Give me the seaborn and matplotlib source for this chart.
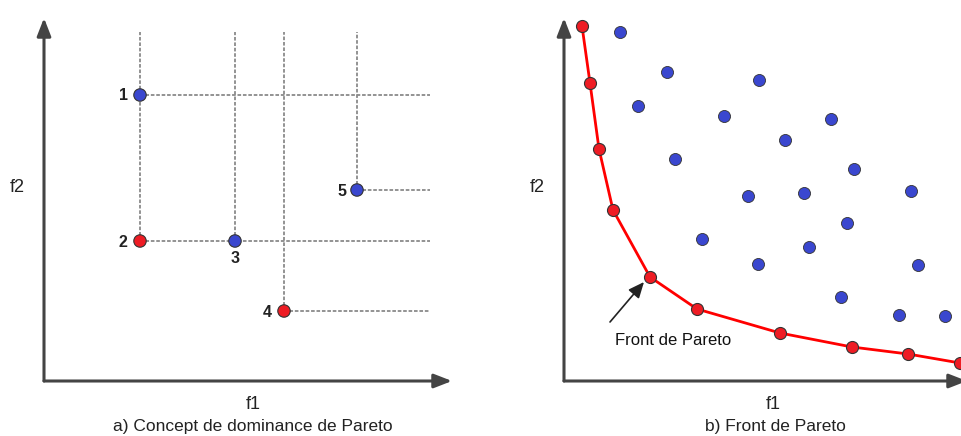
import matplotlib
matplotlib.use("Agg")
import matplotlib.pyplot as plt
import seaborn as sns
import pandas as pd

sns.set_theme(style="white")
plt.rcParams['font.family'] = ['Liberation Sans', 'DejaVu Sans']

# ---- data: panel a (dominance concept) ----
a_labels = ["1", "2", "3", "4", "5"]
a_f1 = [96, 96, 191, 240, 313]
a_f2 = [286, 140, 140, 70, 191]
a_status = ["dominated", "front", "dominated", "front", "dominated"]

# ---- data: panel b (Pareto front) ----
front_f1 = [18, 26, 35, 49, 86, 133, 216, 288, 344, 396]
front_f2 = [355, 298, 232, 171, 104, 72, 48, 34, 27, 18]
dom_f1 = [56, 103, 195, 74, 160, 267, 221, 111, 290, 184,
          240, 347, 283, 138, 245, 194, 354, 277, 335, 381]
dom_f2 = [349, 309, 301, 275, 265, 262, 241, 222, 212, 185,
          188, 190, 158, 142, 134, 117, 116, 84, 66, 65]

BLUE = "#3a47cf"
RED = "#ee1c24"
EDGE = "#333333"
AXC = "#444444"

W, H = 961, 436
fig = plt.figure(figsize=(W / 100, H / 100), dpi=100)

def px_axes(x0, y0, x1, y1):
    return fig.add_axes([x0 / W, 1 - y1 / H, (x1 - x0) / W, (y1 - y0) / H])

def style_axes(ax, xmax, ymax, xarrow):
    ax.set_xlim(0, xmax)
    ax.set_ylim(0, ymax)
    for s in ax.spines.values():
        s.set_visible(False)
    ax.set_xticks([])
    ax.set_yticks([])
    ax.patch.set_alpha(0)
    ap = dict(arrowstyle="-|>,head_length=0.9,head_width=0.35", color=AXC, lw=2.2,
              shrinkA=0, shrinkB=0, mutation_scale=12)
    ax.annotate("", xy=(xarrow, 0), xytext=(0, 0), arrowprops=ap, annotation_clip=False)
    ax.annotate("", xy=(0, ymax), xytext=(0, 0), arrowprops=ap, annotation_clip=False)

# ---------- panel a ----------
axA = px_axes(44, 18, 452, 381)
style_axes(axA, 408, 363, 408)
dash = dict(color="#8a8a8a", lw=1.3, ls=(0, (2, 1)), zorder=1)
xr = 386   # right end of horizontal guides
ytop = 349  # top end of vertical guides
# one vertical guide per distinct f1 (from lowest point up), one horizontal per distinct f2
vmin = {}
hmin = {}
for x, y in zip(a_f1, a_f2):
    vmin[x] = min(vmin.get(x, y), y)
    hmin[y] = min(hmin.get(y, x), x)
for x, y in vmin.items():
    axA.plot([x, x], [y, ytop], **dash)
for y, x in hmin.items():
    axA.plot([x, xr], [y, y], **dash)
dfA = pd.DataFrame({"f1": a_f1, "f2": a_f2, "s": a_status})
sns.scatterplot(data=dfA, x="f1", y="f2", hue="s",
                palette={"dominated": BLUE, "front": RED}, s=80,
                edgecolor=EDGE, linewidth=0.8, legend=False, ax=axA, zorder=3)
offs = [(-17, 0), (-17, -1), (0, -17), (-17, -1), (-15, -1)]
for lab, x, y, (dx, dy) in zip(a_labels, a_f1, a_f2, offs):
    axA.text(x + dx, y + dy, lab, ha="center", va="center", fontsize=11.5,
             fontweight="bold", color="#222222")
axA.set_xlabel("")
axA.set_ylabel("")

# ---------- panel b ----------
axB = px_axes(564, 18, 964, 381)
style_axes(axB, 400, 363, 403)
sns.lineplot(x=front_f1, y=front_f2, color="#ff0000", lw=2, ax=axB, zorder=2, sort=False)
dfB = pd.DataFrame({"f1": dom_f1, "f2": dom_f2})
sns.scatterplot(data=dfB, x="f1", y="f2", color=BLUE, s=75, edgecolor=EDGE,
                linewidth=0.6, legend=False, ax=axB, zorder=3)
dfF = pd.DataFrame({"f1": front_f1, "f2": front_f2})
sns.scatterplot(data=dfF, x="f1", y="f2", color=RED, s=75, edgecolor=EDGE,
                linewidth=0.8, legend=False, ax=axB, zorder=4)
axB.annotate("", xy=(80, 99), xytext=(46, 59),
             arrowprops=dict(arrowstyle="-|>,head_length=0.8,head_width=0.35",
                             color="#222222", lw=1.2, mutation_scale=12,
                             shrinkA=0, shrinkB=0))
axB.text(109, 41, "Front de Pareto", ha="center", va="center", fontsize=12, color="#111111")
axB.set_xlabel("")
axB.set_ylabel("")

# ---------- labels ----------
tc = "#222222"
fig.text(17 / W, 1 - 187 / H, "f2", ha="center", va="center", fontsize=13, color=tc)
fig.text(253 / W, 1 - 404 / H, "f1", ha="center", va="center", fontsize=13, color=tc)
fig.text(253 / W, 1 - 426 / H, "a) Concept de dominance de Pareto", ha="center",
         va="center", fontsize=12.5, color=tc)
fig.text(537 / W, 1 - 187 / H, "f2", ha="center", va="center", fontsize=13, color=tc)
fig.text(773 / W, 1 - 404 / H, "f1", ha="center", va="center", fontsize=13, color=tc)
fig.text(775 / W, 1 - 426 / H, "b) Front de Pareto", ha="center", va="center",
         fontsize=12.5, color=tc)

fig.savefig("out.png", dpi=100, facecolor="white")
